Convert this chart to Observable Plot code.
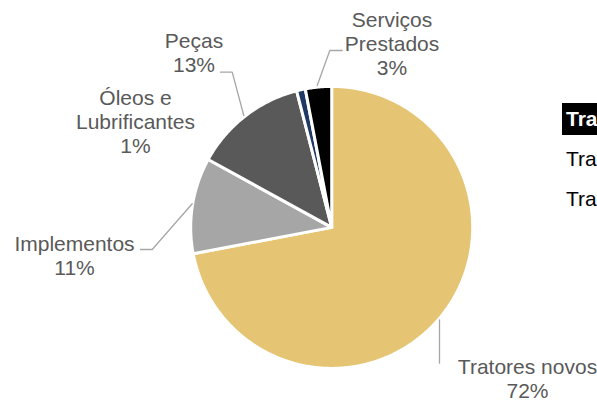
<!DOCTYPE html>
<html>
<head>
<meta charset="utf-8">
<script src="https://cdn.jsdelivr.net/npm/d3@7"></script>
<script src="https://cdn.jsdelivr.net/npm/@observablehq/plot@0.6"></script>
<style>
  html, body { margin: 0; padding: 0; background: #fff; }
  #wrap { position: relative; width: 597px; height: 401px; overflow: hidden; font-family: "Liberation Sans", Arial, sans-serif; }
  #side { position: absolute; left: 562px; top: 103px; width: 300px; }
  #side div { font-size: 21px; height: 32px; line-height: 32px; color: #000; white-space: nowrap; margin-bottom: 8px; }
  #side div.head { background: #000; color: #fff; font-weight: bold; padding-left: 4px; }
  #side div.row { padding-left: 4px; }
</style>
</head>
<body>
<div id="wrap">
  <div id="chart"></div>
  <div id="side"></div>
</div>
<script>
// ---- data ----
const categories = ["Tratores novos", "Implementos", "Peças", "Óleos e Lubrificantes", "Serviços Prestados"];
const shares = [72, 11, 13, 1, 3];
const labelNames = ["Tratores novos", "Implementos", "Peças", "Óleos e\nLubrificantes", "Serviços\nPrestados"];
const sideItems = ["Tratores novos", "Tratores usados", "Tratores seminovos"];

// ---- styles / layout (not data) ----
const colors = ["#E5C574", "#A6A6A6", "#595959", "#1F3864", "#000000"];
const R = 141;
// label anchor (center x, last-line baseline y) relative to pie centre, in px units
const labelPos = [[195.8, -170.1], [-257.2, -47.1], [-137.7, 155.9], [-196.2, 74.9], [60.3, 152.9]];
// leader polylines relative to pie centre (px units); null = none
const leaders = [
  [[107.8, -92.4], [107.8, -135.8]],
  [[-139.5, 23.6], [-179.5, -22.1], [-191.2, -22.1]],
  [[-87.9, 111.9], [-99.5, 155.2], [-111.2, 155.2]],
  null,
  [[-14.5, 141.9], [-1.9, 176.9], [10.5, 176.9]]
];

// ---- build slice polygons from the data ----
const arcs = d3.pie().sort(null).value(d => d)(shares);
const slicePts = [];
arcs.forEach((a, i) => {
  const name = categories[i];
  slicePts.push({name, x: 0, y: 0});
  const n = Math.max(4, Math.ceil((a.endAngle - a.startAngle) / (Math.PI / 360)));
  for (let k = 0; k <= n; k++) {
    const t = a.startAngle + (a.endAngle - a.startAngle) * k / n;
    slicePts.push({name, x: R * Math.sin(t), y: R * Math.cos(t)});
  }
});

const leaderPts = [];
leaders.forEach((l, i) => { if (l) l.forEach(p => leaderPts.push({id: i, x: p[0], y: p[1]})); });

const labels = categories.map((c, i) => ({
  x: labelPos[i][0], y: labelPos[i][1],
  text: labelNames[i] + "\n" + shares[i] + "%"
}));

const chart = Plot.plot({
  width: 597,
  height: 401,
  margin: 0,
  x: {domain: [-331.2, 265.8], range: [0, 597], axis: null},
  y: {domain: [-174.1, 226.9], range: [401, 0], axis: null},
  color: {domain: categories, range: colors},
  style: {fontFamily: "'Liberation Sans', Arial, sans-serif", background: "#fff", overflow: "hidden"},
  marks: [
    Plot.line(slicePts, {x: "x", y: "y", z: "name", fill: "name", stroke: "#fff", strokeWidth: 3, curve: "linear-closed", strokeLinejoin: "round"}),
    Plot.line(leaderPts, {x: "x", y: "y", z: "id", stroke: "#A6A6A6", strokeWidth: 1.3}),
    Plot.text(labels, {x: "x", y: "y", text: "text", textAnchor: "middle", lineAnchor: "bottom", lineHeight: 1.143, fontSize: 21, fill: "#595959"})
  ]
});
document.getElementById("chart").appendChild(chart);

const side = document.getElementById("side");
sideItems.forEach((s, i) => {
  const d = document.createElement("div");
  d.textContent = s;
  d.className = i === 0 ? "head" : "row";
  side.appendChild(d);
});
</script>
</body>
</html>
